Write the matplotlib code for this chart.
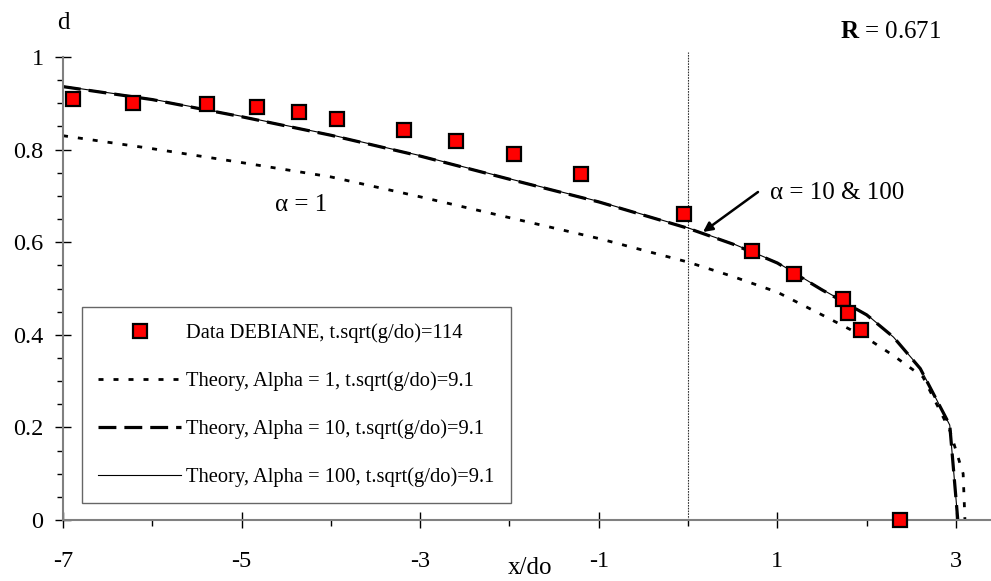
import matplotlib
matplotlib.use("Agg")
import matplotlib.pyplot as plt
from matplotlib.ticker import MultipleLocator, FixedLocator

plt.rcParams['font.family'] = ['Liberation Serif', 'DejaVu Serif']
plt.rcParams['mathtext.fontset'] = 'custom'
plt.rcParams['mathtext.rm'] = 'Liberation Serif'
plt.rcParams['mathtext.bf'] = 'Liberation Serif:bold'

# Data
data_x = [-6.89, -6.22, -5.39, -4.83, -4.36, -3.93, -3.18, -2.60, -1.95, -1.20,
          -0.05, 0.72, 1.19, 1.73, 1.79, 1.94, 2.37]
data_d = [0.909, 0.900, 0.898, 0.892, 0.881, 0.866, 0.842, 0.819, 0.790, 0.747,
          0.661, 0.581, 0.531, 0.477, 0.447, 0.410, 0.0]

x_a1 = [-7, -6, -5, -4, -3, -2, -1, 0, 0.5, 1, 1.5, 2, 2.3, 2.63, 2.93, 3.08, 3.10]
d_a1 = [0.830, 0.802, 0.772, 0.741, 0.698, 0.653, 0.608, 0.557, 0.526, 0.492,
        0.443, 0.393, 0.355, 0.309, 0.194, 0.100, 0.0]

x_a10 = [-7, -6, -5, -4, -3, -2, -1, 0, 0.5, 1, 1.5, 2, 2.3, 2.6, 2.93, 3.02]
d_a10 = [0.936, 0.908, 0.871, 0.831, 0.786, 0.736, 0.687, 0.630, 0.596, 0.555,
         0.497, 0.443, 0.395, 0.327, 0.205, 0.0]

x_a100 = [-7, -6, -5, -4, -3, -2, -1, 0, 0.5, 1, 1.5, 2, 2.3, 2.6, 2.93, 3.02]
d_a100 = [0.937, 0.909, 0.872, 0.832, 0.787, 0.737, 0.688, 0.631, 0.597, 0.556,
          0.498, 0.444, 0.395, 0.328, 0.205, 0.0]

xticks_major = [-7, -5, -3, -1, 1, 3]
xtick_labels = ['-7', '-5', '-3', '-1', '1', '3']
yticks_major = [0, 0.2, 0.4, 0.6, 0.8, 1.0]
ytick_labels = ['0', '0.2', '0.4', '0.6', '0.8', '1']

W, H = 991, 581
fig = plt.figure(figsize=(W / 100, H / 100), dpi=100)
fx = lambda px: px / W
fy = lambda py: 1 - py / H

ax = fig.add_axes([fx(63), fy(520), fx(W - 63), fy(57) - fy(520)])
ax.set_xlim(-7, -7 + (W - 63) / 89.3)
ax.set_ylim(0, 1)

# vertical reference line at x=0
ax.plot([0, 0], [0, 1.01], color='#333333', lw=0.8, linestyle=(0, (1.5, 1)), clip_on=False)

l_data, = ax.plot(data_x, data_d, linestyle='none', marker='s', markersize=10,
                  markerfacecolor='#ff0000', markeredgecolor='black', markeredgewidth=1.6,
                  clip_on=False, zorder=5,
                  label='Data DEBIANE, t.sqrt(g/do)=114')
l1, = ax.plot(x_a1, d_a1, color='black', lw=2.0, dashes=(1.8, 3.6),
              label='Theory, Alpha = 1, t.sqrt(g/do)=9.1')
l10, = ax.plot(x_a10, d_a10, color='black', lw=2.3, dashes=(5.6, 2.5),
               label='Theory, Alpha = 10, t.sqrt(g/do)=9.1')
l100, = ax.plot(x_a100, d_a100, color='black', lw=0.8,
                label='Theory, Alpha = 100, t.sqrt(g/do)=9.1')

for s in ['top', 'right']:
    ax.spines[s].set_visible(False)
for s in ['left', 'bottom']:
    ax.spines[s].set_color('#808080')
    ax.spines[s].set_linewidth(1.5)

ax.xaxis.set_major_locator(FixedLocator(xticks_major))
ax.set_xticklabels(xtick_labels)
ax.xaxis.set_minor_locator(MultipleLocator(1))
ax.yaxis.set_major_locator(FixedLocator(yticks_major))
ax.set_yticklabels(ytick_labels)
ax.yaxis.set_minor_locator(MultipleLocator(0.05))

ax.tick_params(which='major', direction='inout', length=12, width=1, color='black', labelsize=17.5)
ax.tick_params(which='minor', direction='out', length=4, width=1, color='black')
ax.tick_params(axis='x', which='major', pad=16)
ax.tick_params(axis='y', which='major', pad=8)

# Texts
fig.text(fx(63), fy(23), 'd', fontsize=18, ha='center', va='center')
fig.text(fx(530), fy(568), 'x/do', fontsize=18, ha='center', va='center')
fig.text(fx(840), fy(32), r'$\mathbf{R}$ = 0.671', fontsize=18, ha='left', va='center')
fig.text(fx(275), fy(205), 'α = 1', fontsize=18, ha='left', va='center')
fig.text(fx(770), fy(193), 'α = 10 & 100', fontsize=18, ha='left', va='center')
ax.annotate('', xy=(fx(703), fy(232)), xycoords='figure fraction',
            xytext=(fx(758), fy(192)), textcoords='figure fraction',
            arrowprops=dict(arrowstyle='-|>', color='black', lw=1.8,
                            mutation_scale=14, shrinkA=0, shrinkB=0))

leg = fig.legend(handles=[l_data, l1, l10, l100], loc='upper left',
                 bbox_to_anchor=(fx(82), fy(307)), bbox_transform=fig.transFigure,
                 borderaxespad=0, frameon=True, fancybox=False, fontsize=14.8,
                 handlelength=4.0, handletextpad=0.25, labelspacing=1.37,
                 borderpad=0.8, numpoints=1)
leg.get_frame().set_edgecolor('#404040')
leg.get_frame().set_linewidth(1.0)

fig.savefig('out.png', dpi=100)
